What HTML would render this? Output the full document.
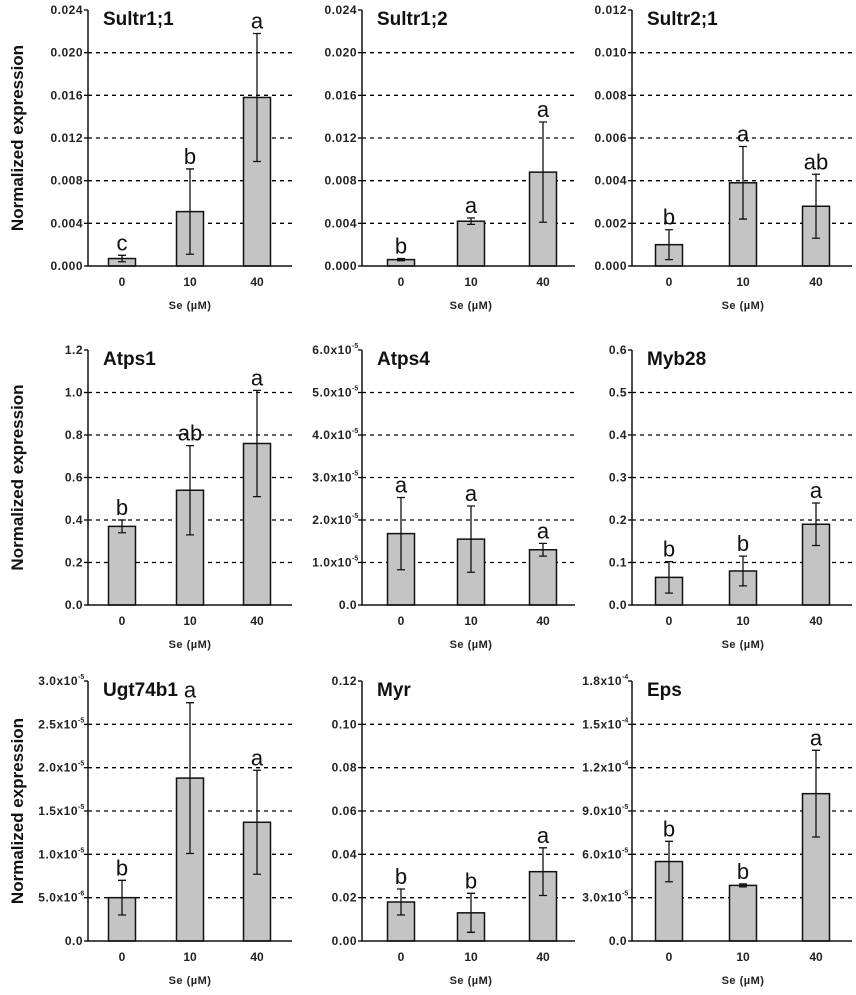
<!DOCTYPE html>
<html><head><meta charset="utf-8"><style>
html,body{margin:0;padding:0;background:#fff}
svg{display:block;font-family:"Liberation Sans",Arial,sans-serif}
</style></head><body>
<svg id="chart" width="856" height="995" viewBox="0 0 856 995"></svg>
<script>
const categories = ["0","10","40"];
const titles = ["Sultr1;1","Sultr1;2","Sultr2;1","Atps1","Atps4","Myb28","Ugt74b1","Myr","Eps"];
const means = [[0.0007,0.0051,0.0158],[0.0006,0.0042,0.0088],[0.001,0.0039,0.0028],
 [0.37,0.54,0.76],[1.68e-5,1.55e-5,1.3e-5],[0.065,0.08,0.19],
 [0.5e-5,1.88e-5,1.37e-5],[0.018,0.013,0.032],[5.5e-5,3.85e-5,10.2e-5]];
const errors = [[0.0003,0.004,0.006],[0.0001,0.0003,0.0047],[0.0007,0.0017,0.0015],
 [0.03,0.21,0.25],[0.85e-5,0.78e-5,0.15e-5],[0.037,0.035,0.05],
 [0.2e-5,0.87e-5,0.6e-5],[0.006,0.009,0.011],[1.4e-5,0.1e-5,3e-5]];
const letters = [["c","b","a"],["b","a","a"],["b","a","ab"],["b","ab","a"],["a","a","a"],["b","b","a"],["b","a","a"],["b","b","a"],["b","b","a"]];
const tickLabels = [
 ["0.000","0.004","0.008","0.012","0.016","0.020","0.024"],
 ["0.000","0.004","0.008","0.012","0.016","0.020","0.024"],
 ["0.000","0.002","0.004","0.006","0.008","0.010","0.012"],
 ["0.0","0.2","0.4","0.6","0.8","1.0","1.2"],
 ["0.0","1.0x10|-5","2.0x10|-5","3.0x10|-5","4.0x10|-5","5.0x10|-5","6.0x10|-5"],
 ["0.0","0.1","0.2","0.3","0.4","0.5","0.6"],
 ["0.0","5.0x10|-6","1.0x10|-5","1.5x10|-5","2.0x10|-5","2.5x10|-5","3.0x10|-5"],
 ["0.00","0.02","0.04","0.06","0.08","0.10","0.12"],
 ["0.0","3.0x10|-5","6.0x10|-5","9.0x10|-5","1.2x10|-4","1.5x10|-4","1.8x10|-4"]];
const yMax = [0.024,0.024,0.012,1.2,6e-5,0.6,3e-5,0.12,1.8e-4];

const NS="http://www.w3.org/2000/svg";
const svg=document.getElementById('chart');
const colX=[88,362,632], colW=[204,213,220], barOff=[[34,102,169],[39,109,181],[37,111,184]];
const rowT=[10,350,681], rowB=[266,605,941];
function mk(tag,attrs,parent){const e=document.createElementNS(NS,tag);for(const k in attrs)e.setAttribute(k,attrs[k]);(parent||svg).appendChild(e);return e;}

for(let p=0;p<9;p++){
  const c=p%3,r=Math.floor(p/3);
  const x0=colX[c],top=rowT[r],bot=rowB[r],W=colW[c];
  const y=v=>bot-(v/yMax[p])*(bot-top);
  const g=mk('g',{});
  
  
  const n=tickLabels[p].length;
  for(let i=0;i<n;i++){
    const v=yMax[p]*i/(n-1), yy=y(v);
    if(i>0&&i<n-1){const gl=mk('line',{x1:x0,x2:x0+W,y1:yy,y2:yy,stroke:'#000','stroke-width':1.3,'stroke-dasharray':'4,4'},g);
      }
    mk('line',{x1:x0-4,x2:x0,y1:yy,y2:yy,stroke:'#000','stroke-width':1.3},g);
    const parts=tickLabels[p][i].split('|');
    const t=mk('text',{x:x0-5,y:yy+4,'text-anchor':'end','font-size':12,'font-weight':'bold',fill:'#222','letter-spacing':0.5},g);
    
    t.textContent=parts[0];
    if(parts[1]){t.setAttribute('x',x0-10);const s=mk('text',{x:x0-10,y:yy-2,'font-size':7,'font-weight':'bold',fill:'#222'},g);s.textContent=parts[1];}
  }
  for(let k=0;k<3;k++){
    const cx=x0+barOff[c][k], m=means[p][k], e=errors[p][k];
    const b=mk('rect',{x:cx-13.5,y:y(m),width:27,height:bot-y(m),fill:'#c4c4c4',stroke:'#111','stroke-width':1.5},g);
    
    const yt=y(m+e),yb=y(Math.max(0,m-e));
    const eb=mk('path',{d:`M${cx},${yt}V${yb}M${cx-4},${yt}H${cx+4}M${cx-4},${yb}H${cx+4}`,stroke:'#111','stroke-width':1.3,fill:'none'},g);
    
    const lt=mk('text',{x:cx,y:yt-5,'text-anchor':'middle','font-size':22,fill:'#111'},g);
    
    lt.textContent=letters[p][k];
    const xt=mk('text',{x:cx,y:bot+20,'text-anchor':'middle','font-size':12,'font-weight':'bold',fill:'#222'},g);
    
    xt.textContent=categories[k];
  }
  mk('path',{d:`M${x0},${top}V${bot}H${x0+W}`,stroke:'#111','stroke-width':1.5,fill:'none'},g);
  const tt=mk('text',{x:x0+15,y:top+15,'font-size':19,'font-weight':'bold',fill:'#111'},g);
  
  tt.textContent=titles[p];
  const xl=mk('text',{x:x0+barOff[c][1],y:bot+43,'text-anchor':'middle','font-size':11,'font-weight':'bold',fill:'#222','letter-spacing':0.5},g);
  
  xl.textContent='Se (\u00b5M)';
  if(c===0){
    const yl=mk('text',{x:0,y:0,transform:`translate(23,${(top+bot)/2}) rotate(-90)`,'text-anchor':'middle','font-size':17,'font-weight':'bold',fill:'#111'},g);
    
    yl.textContent='Normalized expression';
  }
}
</script>
</body></html>
